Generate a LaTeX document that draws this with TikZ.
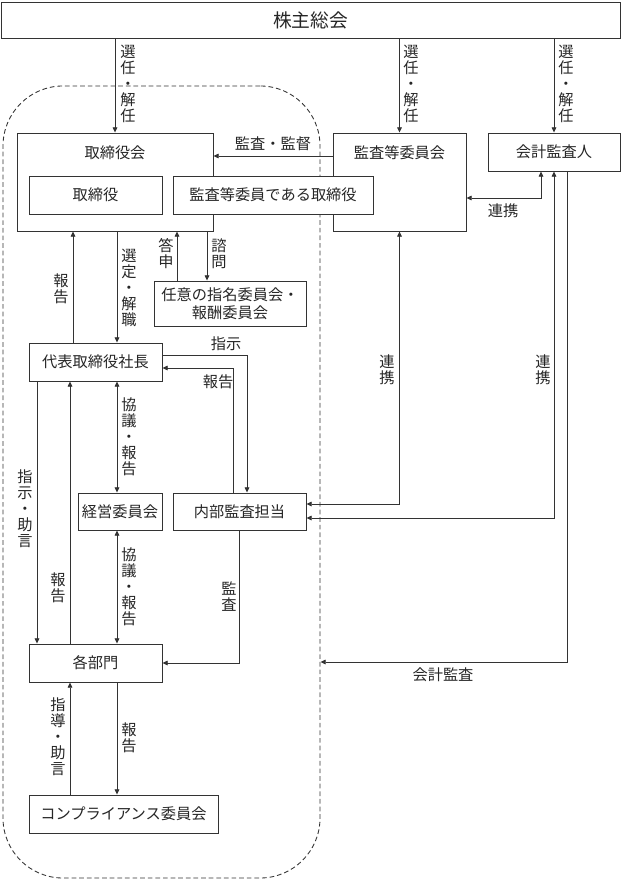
\documentclass[tikz,border=0pt]{standalone}
\usepackage{fontspec}
\setmainfont{Noto Sans CJK JP}
\usetikzlibrary{arrows.meta}

\tikzset{
  box/.style={draw=black!80, line width=0.75pt, fill=white, inner sep=0pt,
    text=black!85, font=\fontsize{13}{15}\selectfont},
  frame/.style={draw=black!80, line width=0.75pt, dash pattern=on 4pt off 2.5pt,
    rounded corners=1.8cm, inner sep=0pt},
  lbl/.style={inner sep=0pt, text=black!85, font=\fontsize{13}{15}\selectfont},
  vlbl/.style={lbl, align=center, font=\fontsize{13}{13.6}\selectfont},
  arr/.style={draw=black!80, line width=0.75pt, -{Triangle[length=4.5pt,width=4pt]}},
  dbl/.style={arr, {Triangle[length=4.5pt,width=4pt]}-{Triangle[length=4.5pt,width=4pt]}},
}

\begin{document}
\begin{tikzpicture}[x=0.03cm, y=-0.03cm]
    \useasboundingbox (0,0) rectangle (621,880);

    % --- Company boundary ---
    \node[frame, minimum width=9.51cm, minimum height=23.76cm] (corp) at (161.5,482) {};

    % --- Boxes ---
    \node[box, minimum width=18.57cm, minimum height=1.08cm,
          font=\fontsize{16}{18}\selectfont] (gm) at (310.5,20) {株主総会};

    \node[box, minimum width=5.88cm, minimum height=2.94cm] (board) at (115,182) {};
    \node[lbl] (boardT) at (115,153) {取締役会};
    \node[box, minimum width=3.99cm, minimum height=2.94cm] (acc) at (399.5,182) {};
    \node[lbl] (accT) at (399.5,153) {監査等委員会};
    \node[box, minimum width=3.99cm, minimum height=1.14cm] (dir) at (95.5,195) {取締役};
    \node[box, minimum width=6cm, minimum height=1.14cm] (acdir) at (273,195) {監査等委員である取締役};
    \node[box, minimum width=3.96cm, minimum height=1.14cm] (cpa) at (554,152) {会計監査人};

    \node[box, minimum width=4.56cm, minimum height=1.35cm, align=center] (nom) at (230,303.5)
        {任意の指名委員会・\\報酬委員会};
    \node[box, minimum width=3.99cm, minimum height=1.14cm] (ceo) at (95.5,362) {代表取締役社長};
    \node[box, minimum width=2.52cm, minimum height=1.11cm] (mgmt) at (120,511.5) {経営委員会};
    \node[box, minimum width=3.99cm, minimum height=1.11cm] (ia) at (239.5,511.5) {内部監査担当};
    \node[box, minimum width=3.99cm, minimum height=1.14cm] (dept) at (95.5,663) {各部門};
    \node[box, minimum width=5.67cm, minimum height=1.14cm] (comp) at (123.5,814) {コンプライアンス委員会};

    % --- Helper coordinates for the connectors ---
    \coordinate (xRep) at (73,0);
    \coordinate (xMid) at (117,0);
    \coordinate (xAns) at (177,0);
    \coordinate (xAsk) at (207,0);
    \coordinate (xDown) at (37,0);
    \coordinate (xUp) at (70,0);
    \coordinate (ySup) at (0,156);
    \coordinate (cRen) at (541,198);
    \coordinate (cOrd) at (247,355);
    \coordinate (cRet) at (233,368);
    \coordinate (yRen2) at (0,504);
    \coordinate (yRen3) at (0,518);
    \coordinate (cAud) at (567,662);

    % --- Connectors ---
    \draw[arr] (gm.south -| board.north) -- (board.north);
    \draw[arr] (gm.south -| acc.north) -- (acc.north);
    \draw[arr] (gm.south -| cpa.north) -- (cpa.north);
    \draw[arr] (acc.west |- ySup) -- (board.east |- ySup);
    \draw[dbl] (acc.east |- cRen) -- (cRen) -- (cpa.south -| cRen);

    \draw[arr] (ceo.north -| xRep) -- (board.south -| xRep);
    \draw[arr] (board.south -| xMid) -- (ceo.north -| xMid);
    \draw[arr] (nom.north -| xAns) -- (board.south -| xAns);
    \draw[arr] (board.south -| xAsk) -- (nom.north -| xAsk);

    \draw[arr] (ceo.east |- cOrd) -- (cOrd) -- (ia.north -| cOrd);
    \draw[arr] (ia.north -| cRet) -- (cRet) -- (ceo.east |- cRet);
    \draw[dbl] (ceo.south -| xMid) -- (mgmt.north -| xMid);
    \draw[arr] (ceo.south -| xDown) -- (dept.north -| xDown);
    \draw[arr] (dept.north -| xUp) -- (ceo.south -| xUp);
    \draw[dbl] (mgmt.south -| xMid) -- (dept.north -| xMid);
    \draw[arr] (ia.south) |- (dept.east);
    \draw[arr] (comp.north -| xUp) -- (dept.south -| xUp);
    \draw[arr] (dept.south -| xMid) -- (comp.north -| xMid);

    \draw[dbl] (acc.south) |- (ia.east |- yRen2);
    \draw[dbl] (cpa.south) |- (ia.east |- yRen3);
    \draw[arr] (cpa.south -| cAud) |- (corp.east |- cAud);

    % --- Labels ---
    \node[vlbl] (lGm1) at (128,84) {選\\任\\・\\解\\任};
    \node[vlbl] (lGm2) at (411,84) {選\\任\\・\\解\\任};
    \node[vlbl] (lGm3) at (566,84) {選\\任\\・\\解\\任};
    \node[lbl] (lSup) at (273,144) {監査・監督};
    \node[lbl] (lRen1) at (503,211) {連携};
    \node[vlbl] (lRep1) at (61,289) {報\\告};
    \node[vlbl] (lSel) at (129,288) {選\\定\\・\\解\\職};
    \node[vlbl] (lAns) at (166,254) {答\\申};
    \node[vlbl] (lAsk) at (219,254) {諮\\問};
    \node[lbl] (lOrd) at (226,344) {指示};
    \node[lbl] (lRet) at (218,382) {報告};
    \node[vlbl] (lCon1) at (129,437) {協\\議\\・\\報\\告};
    \node[vlbl] (lAdv) at (25,509) {指\\示\\・\\助\\言};
    \node[vlbl] (lRep2) at (58,588) {報\\告};
    \node[vlbl] (lCon2) at (129,587) {協\\議\\・\\報\\告};
    \node[vlbl] (lAud) at (229,597) {監\\査};
    \node[vlbl] (lGuide) at (58,737) {指\\導\\・\\助\\言};
    \node[vlbl] (lRep3) at (129,738) {報\\告};
    \node[vlbl] (lRen2) at (387,370) {連\\携};
    \node[vlbl] (lRen3) at (543,370) {連\\携};
    \node[lbl] (lAcc) at (443,675) {会計監査};

\end{tikzpicture}
\end{document}
